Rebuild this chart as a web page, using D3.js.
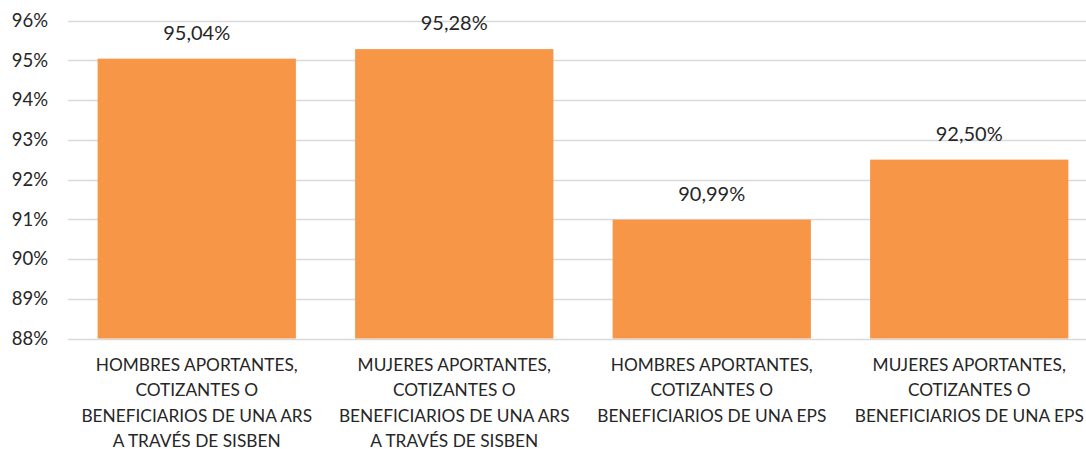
<!DOCTYPE html>
<html>
<head>
<meta charset="utf-8">
<script src="https://cdn.jsdelivr.net/npm/d3@7"></script>
<style>
  body { margin: 0; background: #fff; }
  svg { display: block; font-family: Lato, "Open Sans", sans-serif; }
</style>
</head>
<body>
<svg width="1086" height="449"></svg>
<script>
// categorías (cada una partida en líneas como en el original)
const categories = [
  ["HOMBRES APORTANTES,", "COTIZANTES O", "BENEFICIARIOS DE UNA ARS", "A TRAVÉS DE SISBEN"],
  ["MUJERES APORTANTES,", "COTIZANTES O", "BENEFICIARIOS DE UNA ARS", "A TRAVÉS DE SISBEN"],
  ["HOMBRES APORTANTES,", "COTIZANTES O", "BENEFICIARIOS DE UNA EPS"],
  ["MUJERES APORTANTES,", "COTIZANTES O", "BENEFICIARIOS DE UNA EPS"],
];
const values = [95.04, 95.28, 90.99, 92.50];
const yTicks = [88, 89, 90, 91, 92, 93, 94, 95, 96];

const svg = d3.select("svg");
const area = { left: 68, right: 1098, top: 20.5, bottom: 338.5 };

const keys = categories.map((c, i) => i);
const scX = d3.scaleBand().domain(keys).range([area.left, area.right]).paddingInner(0.23).paddingOuter(0.115);
const scY = d3.scaleLinear().domain([88, 96]).range([area.bottom, area.top]);

const fmt = (v) => v.toFixed(2).replace(".", ",") + "%";

// líneas de cuadrícula
svg.append("g")
  .selectAll("line")
  .data(yTicks)
  .enter()
  .append("line")
  .attr("x1", area.left)
  .attr("x2", area.right)
  .attr("y1", (d) => Math.round(scY(d)) + 0.5)
  .attr("y2", (d) => Math.round(scY(d)) + 0.5)
  .style("stroke", "#d9d9d9")
  .style("stroke-width", 1.5);

// eje Y
const axisY = d3.axisLeft(scY).tickValues(yTicks).tickSize(0).tickPadding(0).tickFormat((d) => d + "%");
svg.append("g")
  .attr("transform", `translate(48, 0)`)
  .call(axisY)
  .call((g) => g.select(".domain").remove())
  .selectAll("text")
  .style("font-family", "Lato, sans-serif")
  .style("font-size", "18.5px")
  .style("fill", "#262626");

// barras
svg.append("g")
  .selectAll("rect")
  .data(values)
  .enter()
  .append("rect")
  .attr("x", (d, i) => scX(i))
  .attr("y", (d) => scY(d))
  .attr("width", scX.bandwidth())
  .attr("height", (d) => scY(88) - scY(d))
  .style("fill", "#f79646");

// etiquetas de valores
svg.append("g")
  .selectAll("text")
  .data(values)
  .enter()
  .append("text")
  .attr("x", (d, i) => scX(i) + scX.bandwidth() / 2)
  .attr("y", (d) => scY(d) - 19)
  .attr("text-anchor", "middle")
  .style("font-size", "20px")
  .style("fill", "#262626")
  .text(fmt);

// etiquetas del eje X
const labels = svg.append("g")
  .selectAll("text")
  .data(categories)
  .enter()
  .append("text")
  .attr("text-anchor", "middle")
  .style("font-size", "17.3px")
  .style("fill", "#262626");

labels.selectAll("tspan")
  .data((d, i) => d.map((line) => ({ line, i })))
  .enter()
  .append("tspan")
  .attr("x", (d) => scX(d.i) + scX.bandwidth() / 2)
  .attr("y", (d, j) => 371 + j * 25.3)
  .text((d) => d.line);
</script>
</body>
</html>
